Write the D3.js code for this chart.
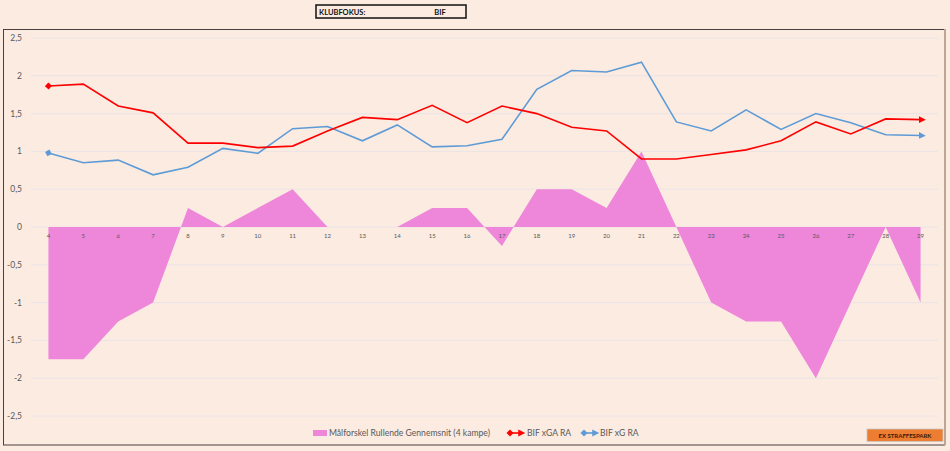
<!DOCTYPE html>
<html>
<head>
<meta charset="utf-8">
<script src="https://cdn.jsdelivr.net/npm/d3@7"></script>
<style>
  body { margin: 0; background: #FBEBE1; }
  svg { display: block; font-family: Lato, "Liberation Sans", sans-serif; }
</style>
</head>
<body>
<div id="chart"></div>
<script>
// Kampe (rullende)
var rounds = [4,5,6,7,8,9,10,11,12,13,14,15,16,17,18,19,20,21,22,23,24,25,26,27,28,29];
// Målforskel rullende gennemsnit (4 kampe)
var goalDiff = [-1.75,-1.75,-1.25,-1,0.25,0,0.25,0.5,0,0,0,0.25,0.25,-0.25,0.5,0.5,0.25,1,0,-1,-1.25,-1.25,-2,-1,0,-1];
// BIF xGA RA
var xgaRA = [1.865,1.89,1.6,1.51,1.11,1.11,1.05,1.07,1.27,1.45,1.42,1.61,1.38,1.6,1.5,1.32,1.27,0.9,0.9,0.96,1.02,1.14,1.39,1.23,1.43,1.42];
// BIF xG RA
var xgRA = [0.98,0.85,0.885,0.69,0.79,1.04,0.975,1.3,1.33,1.14,1.35,1.06,1.075,1.16,1.82,2.07,2.05,2.18,1.39,1.27,1.55,1.29,1.5,1.38,1.22,1.21];
var yTicks = [-2.5,-2,-1.5,-1,-0.5,0,0.5,1,1.5,2,2.5];
var legendLabels = ["Målforskel Rullende Gennemsnit (4 kampe)", "BIF xGA RA", "BIF xG RA"];

var W = 950, H = 451;

var svg = d3.select("#chart").append("svg")
    .attr("width", W)
    .attr("height", H);

svg.append("rect").attr("width", W).attr("height", H).attr("fill", "#FBEBE1");

// title box
svg.append("rect")
    .attr("x", 316).attr("y", 5).attr("width", 150).attr("height", 13)
    .attr("fill", "#FBEBE1").attr("stroke", "#111").attr("stroke-width", 1.5);
svg.append("text").attr("x", 319).attr("y", 15)
    .attr("font-size", 7.5).attr("font-weight", "bold").attr("fill", "#111")
    .text("KLUBFOKUS:");
svg.append("text").attr("x", 440).attr("y", 15).attr("text-anchor", "middle")
    .attr("font-size", 7.5).attr("font-weight", "bold").attr("fill", "#111")
    .text("BIF");

// chart frame
svg.append("rect")
    .attr("x", 3.5).attr("y", 29.5).attr("width", 941).attr("height", 415.5)
    .attr("fill", "#FBEBE1").attr("stroke", "#4a4040").attr("stroke-width", 1);
svg.append("line")
    .attr("x1", 945).attr("x2", 945).attr("y1", 29).attr("y2", 445)
    .attr("stroke", "#BFA596").attr("stroke-width", 2);

var x = d3.scaleBand().domain(rounds).range([31, 938]);
var y = d3.scaleLinear().domain([-2.5, 2.5]).range([416, 38]);
var cx = function(d, i) { return x(rounds[i]) + x.bandwidth() / 2; };

// gridlines
svg.append("g").selectAll("line")
    .data(yTicks)
    .join("line")
    .attr("x1", 31).attr("x2", 938)
    .attr("y1", function(d) { return y(d); })
    .attr("y2", function(d) { return y(d); })
    .attr("stroke", "#EAE4E6").attr("stroke-width", 1);

// y axis labels
svg.append("g").selectAll("text")
    .data(yTicks)
    .join("text")
    .attr("x", 22)
    .attr("y", function(d) { return y(d) + 3; })
    .attr("text-anchor", "end")
    .attr("font-size", 8.5)
    .attr("fill", "#595959")
    .text(function(d) { return String(d).replace(".", ","); });

// area
var area = d3.area()
    .x(cx)
    .y0(y(0))
    .y1(function(d) { return y(d); });
svg.append("path")
    .datum(goalDiff)
    .attr("d", area)
    .attr("fill", "#EE86DA");

// x axis labels
svg.append("g").selectAll("text")
    .data(rounds)
    .join("text")
    .attr("x", function(d) { return x(d) + x.bandwidth() / 2; })
    .attr("y", 238)
    .attr("text-anchor", "middle")
    .attr("font-size", 6)
    .attr("fill", "#595959")
    .text(function(d) { return d; });

// markers
var defs = svg.append("defs");
function addMarkers(id, color) {
    defs.append("marker")
        .attr("id", "dia-" + id)
        .attr("viewBox", "-5 -5 10 10")
        .attr("markerWidth", 5.5).attr("markerHeight", 5.5)
        .attr("refX", 0).attr("refY", 0)
        .attr("orient", "auto")
        .append("path").attr("d", "M-4,0L0,-4L4,0L0,4Z").attr("fill", color);
    defs.append("marker")
        .attr("id", "arr-" + id)
        .attr("viewBox", "0 -5 10 10")
        .attr("markerWidth", 5.5).attr("markerHeight", 5.5)
        .attr("refX", 2).attr("refY", 0)
        .attr("orient", "auto")
        .append("path").attr("d", "M0,-4L8,0L0,4Z").attr("fill", color);
}
addMarkers("red", "#FF0000");
addMarkers("blue", "#5E9BD6");

var line = d3.line()
    .x(cx)
    .y(function(d) { return y(d); });

svg.append("path")
    .datum(xgRA)
    .attr("d", line)
    .attr("fill", "none")
    .attr("stroke", "#5E9BD6")
    .attr("stroke-width", 1.6)
    .attr("marker-start", "url(#dia-blue)")
    .attr("marker-end", "url(#arr-blue)");

svg.append("path")
    .datum(xgaRA)
    .attr("d", line)
    .attr("fill", "none")
    .attr("stroke", "#FF0000")
    .attr("stroke-width", 1.6)
    .attr("marker-start", "url(#dia-red)")
    .attr("marker-end", "url(#arr-red)");

// legend
var leg = svg.append("g").attr("font-size", 8.6).attr("fill", "#595959");
leg.append("rect").attr("x", 313).attr("y", 430).attr("width", 14).attr("height", 6).attr("fill", "#EE86DA");
leg.append("text").attr("x", 329).attr("y", 436).text(legendLabels[0]);

[["red", "#FF0000", 508, 527], ["blue", "#5E9BD6", 582, 600]].forEach(function(s, i) {
    leg.append("line")
        .attr("x1", s[2] + 2).attr("x2", s[2] + 12).attr("y1", 433).attr("y2", 433)
        .attr("stroke", s[1]).attr("stroke-width", 1.6)
        .attr("marker-start", "url(#dia-" + s[0] + ")")
        .attr("marker-end", "url(#arr-" + s[0] + ")");
    leg.append("text").attr("x", s[3]).attr("y", 436).text(legendLabels[i + 1]);
});

// button
svg.append("rect")
    .attr("x", 867).attr("y", 429).attr("width", 76).attr("height", 12.5)
    .attr("fill", "#ED7D31").attr("stroke", "#C9C9C9").attr("stroke-width", 0.8);
svg.append("text")
    .attr("x", 905).attr("y", 438).attr("text-anchor", "middle")
    .attr("font-size", 6).attr("font-weight", "bold").attr("fill", "#3a1a0a")
    .text("EX STRAFFESPARK");
</script>
</body>
</html>
